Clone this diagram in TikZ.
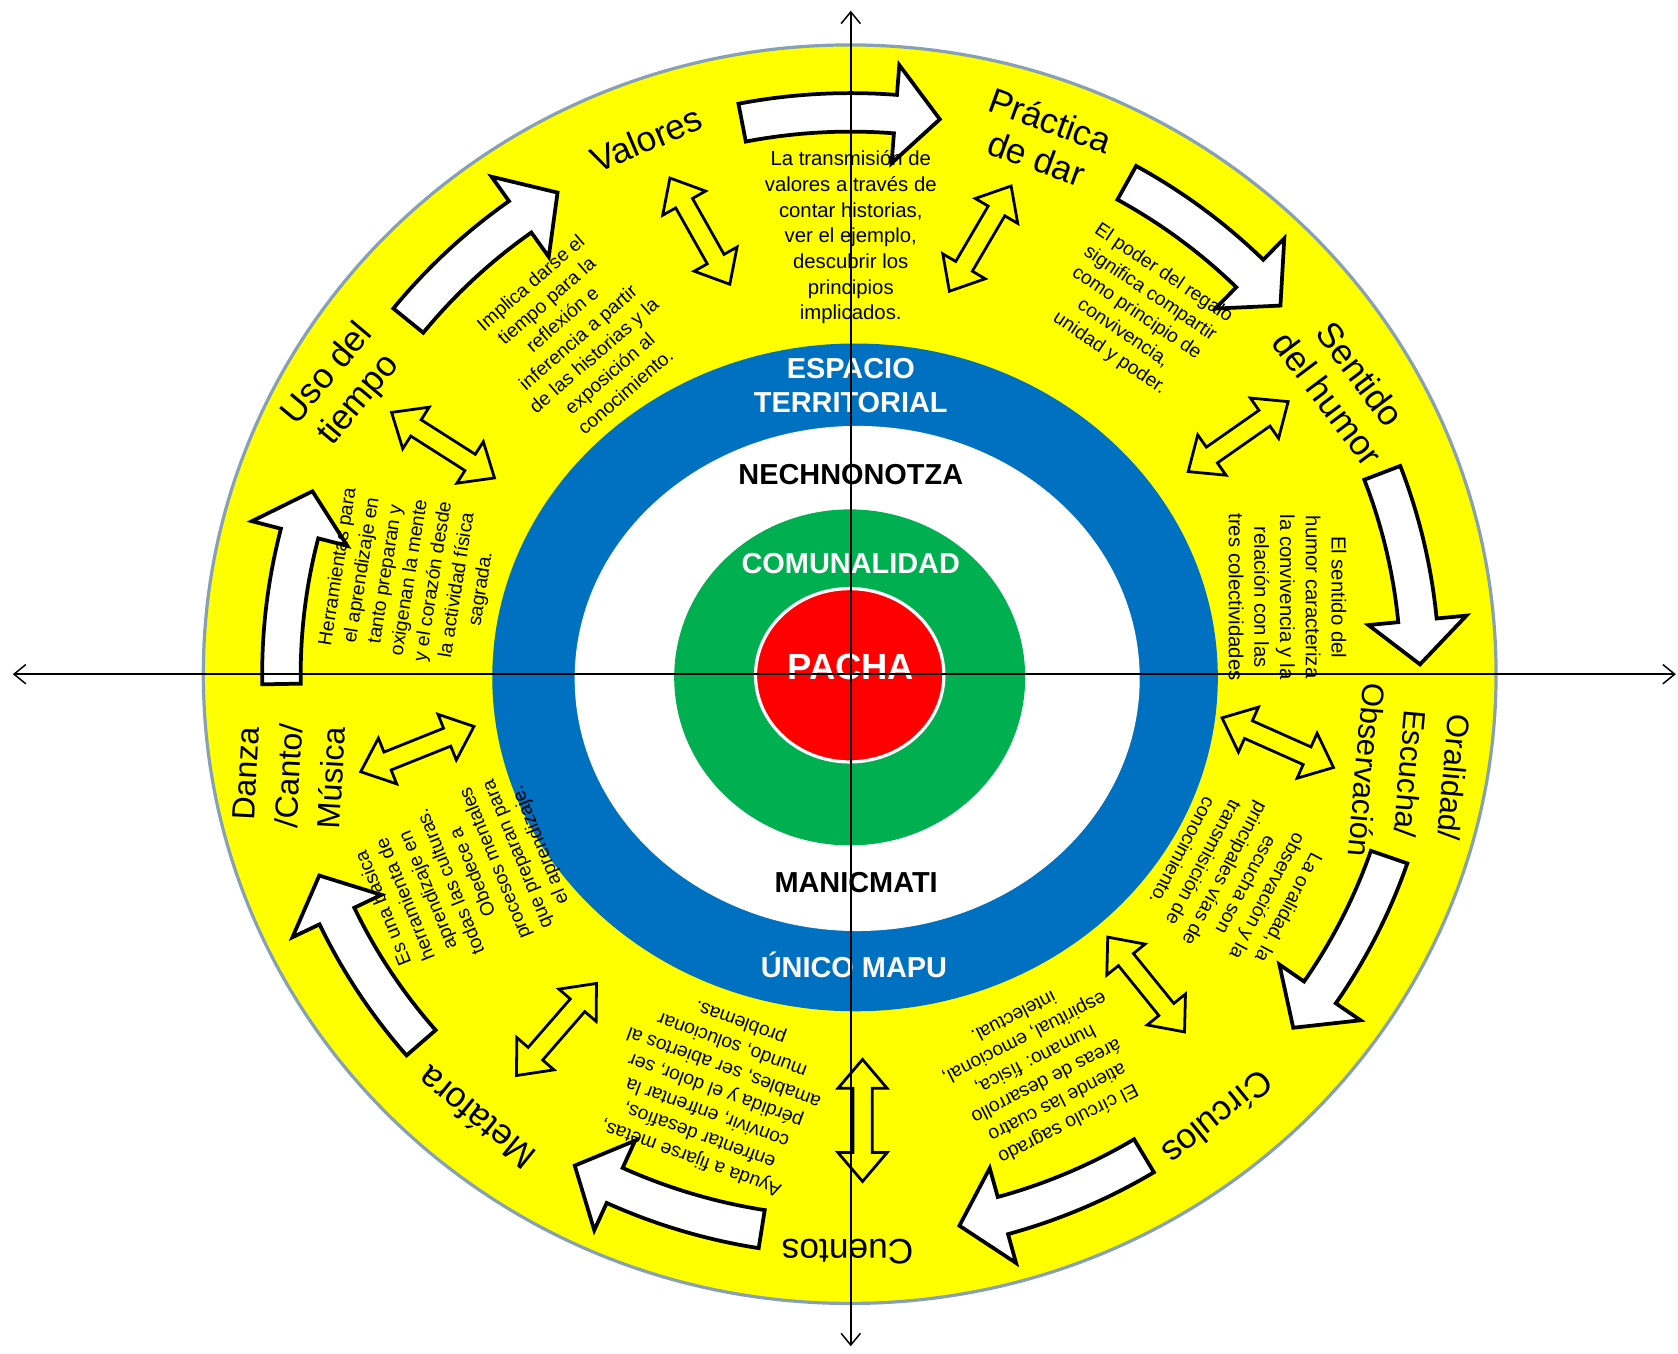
\documentclass[tikz,border=0pt]{standalone}
\usepackage{fontspec}
\setmainfont{Liberation Sans}
\usetikzlibrary{arrows.meta}
\definecolor{ringyellow}{RGB}{255,255,0}
\definecolor{ringblue}{RGB}{0,112,192}
\definecolor{ringgreen}{RGB}{0,176,80}
\definecolor{ringred}{RGB}{255,0,0}
\definecolor{rimgray}{RGB}{135,160,182}
\tikzset{
  flowarrow/.style={draw=black, line width=3.5pt, fill=white, line join=miter},
  linkarrow/.style={draw=black, line width=2.6pt, fill=ringyellow, line join=miter},
  looplabel/.style={font=\fontsize{33}{38}\selectfont, align=center, inner sep=0pt},
  looptext/.style={font=\fontsize{18}{22.5}\selectfont, align=center, inner sep=0pt},
  ringtext/.style={font=\bfseries\fontsize{27}{32}\selectfont, align=center, inner sep=0pt},
  axisline/.style={line width=1.4pt, {Straight Barb[length=11pt,width=18pt]}-{Straight Barb[length=11pt,width=18pt]}}
}
\begin{document}
\begin{tikzpicture}[x=1pt, y=1pt]
\useasboundingbox[fill=white] (-795,-635) rectangle (773,630);

% rings
\filldraw[fill=ringyellow, draw=rimgray, line width=3pt] (-1,0) ellipse [x radius=604, y radius=588];
\fill[ringblue] (4,-3) ellipse [x radius=339, y radius=312];
\fill[white] (6,-4) ellipse [x radius=264, y radius=236];
\fill[ringgreen] (-1,-3) ellipse [x radius=164, y radius=157];
\filldraw[fill=ringred, draw=white, line width=3pt] (-1,-1) ellipse [x radius=88, y radius=81];

% white arrows round the loop
\foreach \k in {0,...,8} {
  \pgfmathsetmacro\sa{101-40*\k}
  \pgfmathsetmacro\ea{\sa-20}
  \pgfmathsetmacro\hb{\ea+4.5}
  \path[flowarrow] (\sa:550 and 543) arc[start angle=\sa, end angle=\hb, x radius=550, y radius=543]
    -- (\hb:578 and 571) -- (\ea:532 and 525) -- (\hb:486 and 479) -- (\hb:514 and 507)
    arc[start angle=\hb, end angle=\sa, x radius=514, y radius=507] -- cycle;
}

% double arrows
\foreach \cx/\cy/\dir in {-141/414/119.4, 121/407/59.6, 362/222/35, 399/-64/-24, 276/-290/-51,
    11/-417/-90, -275/-332/-131, -405/-70/201.8, -381/214/147.5} {
  \path[linkarrow, shift={(\cx,\cy)}, rotate=\dir] (-57,0) -- (-30,23) -- (-30,9) -- (30,9) -- (30,23)
    -- (57,0) -- (30,-23) -- (30,-9) -- (-30,-9) -- (-30,-23) -- cycle;
}

% loop labels
\node[looplabel, rotate=23] (valores) at (-191,500) {Valores};
\node[looplabel, rotate=-20] (practica) at (180,500) {Práctica\\de dar};
\node[looplabel, rotate=-53] (sentido) at (461,269) {Sentido\\del humor};
\node[looplabel, font=\fontsize{29}{41}\selectfont, rotate=-95] (oralidad) at (523,-93) {Oralidad/\\Escucha/\\Observación};
\node[looplabel, rotate=-141] (circulos) at (343,-415) {Círculos};
\node[looplabel, rotate=180] (cuentos) at (-3,-540) {Cuentos};
\node[looplabel, rotate=141] (metafora) at (-350,-415) {Metáfora};
\node[looplabel, font=\fontsize{30}{40}\selectfont, rotate=87] (danza) at (-525,-95) {Danza\\/Canto/\\Música};
\node[looplabel, rotate=50] (uso) at (-474,268) {Uso del\\tiempo};

% texts between the arrows
\node[looptext, font=\fontsize{19}{24}\selectfont] (valorestxt) at (0,408)
  {La transmisión de\\valores a través de\\contar historias,\\ver el ejemplo,\\descubrir los\\principios\\implicados.};
\node[looptext, rotate=41] (usotxt) at (-255,315)
  {Implica darse el\\tiempo para la\\reflexión e\\inferencia a partir\\de las historias y la\\exposición al\\conocimiento.};
\node[looptext, rotate=-34] (practicatxt) at (267,337)
  {El poder del regalo\\significa compartir\\como principio de\\convivencia,\\unidad y poder.};
\node[looptext, font=\fontsize{19}{24}\selectfont, rotate=-90] (sentidotxt) at (408,72)
  {El sentido del\\humor caracteriza\\la convivencia y la\\relación con las\\tres colectividades};
\node[looptext, rotate=-118] (oralidadtxt) at (360,-192)
  {La oralidad, la\\observación y la\\escucha son\\principales vías de\\transmisición de\\conocimiento.};
\node[looptext, rotate=-153] (circulostxt) at (178,-371)
  {El círculo sagrado\\atiende las cuatro\\áreas de desarrollo\\humano: física,\\espiritual, emocional,\\intelectual.};
\node[looptext, rotate=160] (cuentostxt) at (-126,-388)
  {Ayuda a fijarse metas,\\enfrentar desafíos,\\convivir, enfrentar la\\pérdida y el dolor, ser\\amables, ser abiertos al\\mundo, solucionar\\problemas.};
\node[looptext, rotate=112] (metaforatxt) at (-363,-189)
  {Es una básica\\herramienta de\\aprendizaje en\\todas las culturas.\\Obedece a\\procesos mentales\\que preparan para\\el aprendizaje.};
\node[looptext, rotate=81] (danzatxt) at (-412,90)
  {Herramientas para\\el aprendizaje en\\tanto preparan y\\oxigenan la mente\\y el corazón desde\\la actividad física\\sagrada.};

% ring names
\node[ringtext, text=white] (espacio) at (0,270) {ESPACIO\\TERRITORIAL};
\node[ringtext] (nechno) at (0,187) {NECHNONOTZA};
\node[ringtext, text=white] (comunal) at (0,103) {COMUNALIDAD};
\node[ringtext, text=white, font=\bfseries\fontsize{34}{40}\selectfont] (pacha) at (0,7) {PACHA};
\node[ringtext] (manic) at (5,-195) {MANICMATI};
\node[ringtext, text=white] (unico) at (3,-272) {ÚNICO MAPU};

% axes
\coordinate (west) at (-783,0);
\coordinate (east) at (771,0);
\coordinate (north) at (0,620);
\coordinate (south) at (0,-628);
\draw[axisline] (west) -- (east);
\draw[axisline] (north) -- (south);
\end{tikzpicture}
\end{document}
